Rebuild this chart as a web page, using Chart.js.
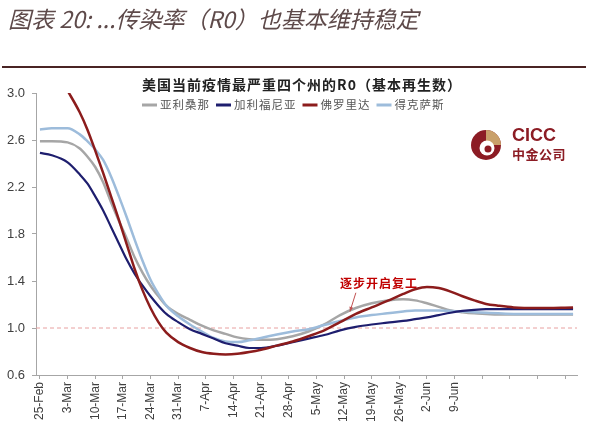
<!DOCTYPE html>
<html>
<head>
<meta charset="utf-8">
<script src="https://cdn.jsdelivr.net/npm/chart.js@4/dist/chart.umd.min.js"></script>
<style>
  html, body { margin: 0; padding: 0; background: #ffffff; }
  canvas { display: block; }
</style>
</head>
<body>
<canvas id="c" width="600" height="436"></canvas>
<script>
// ---- text ----
const headerText = '图表 20: ...传染率（R0）也基本维持稳定';
const chartTitle = '美国当前疫情最严重四个州的R0（基本再生数）';
const annotationText = '逐步开启复工';

// ---- axes ----
// tick labels (weekly, day offset = index * 7 from 25-Feb)
const dateLabels = ['25-Feb','3-Mar','10-Mar','17-Mar','24-Mar','31-Mar','7-Apr','14-Apr','21-Apr','28-Apr','5-May','12-May','19-May','26-May','2-Jun','9-Jun','','','',''];
const yTickValues = [0.6, 1.0, 1.4, 1.8, 2.2, 2.6, 3.0];
const threshold = 1.0;

// ---- series (days since 25-Feb) ----
const days = [0,3,7,10,12,14,16,18,20,22,24,26,28,30,32,35,38,41,44,47,50,53,56,60,64,68,72,76,80,84,88,92,95,98,101,104,107,110,113,116,120,126,135];

const seriesNames = ['亚利桑那','加利福尼亚','佛罗里达','得克萨斯'];

const arizona = [2.59,2.59,2.58,2.53,2.46,2.37,2.24,2.07,1.91,1.76,1.60,1.47,1.36,1.27,1.19,1.12,1.07,1.02,0.98,0.95,0.92,0.905,0.90,0.905,0.93,0.97,1.03,1.11,1.17,1.21,1.235,1.245,1.235,1.21,1.18,1.15,1.135,1.125,1.12,1.115,1.115,1.115,1.115];

const california = [2.49,2.47,2.41,2.31,2.23,2.12,2.00,1.86,1.72,1.58,1.46,1.36,1.27,1.19,1.12,1.05,0.99,0.95,0.91,0.87,0.85,0.83,0.83,0.85,0.88,0.91,0.94,0.98,1.01,1.03,1.045,1.06,1.075,1.09,1.11,1.13,1.145,1.155,1.16,1.16,1.16,1.16,1.16];

const florida = [null,null,3.02,2.84,2.69,2.51,2.32,2.12,1.92,1.71,1.50,1.32,1.17,1.05,0.96,0.88,0.83,0.795,0.78,0.775,0.78,0.795,0.815,0.85,0.885,0.93,0.98,1.05,1.12,1.175,1.23,1.29,1.33,1.35,1.34,1.31,1.27,1.235,1.205,1.19,1.175,1.17,1.175];

const texas = [2.69,2.70,2.70,2.65,2.59,2.52,2.43,2.29,2.12,1.94,1.75,1.57,1.41,1.29,1.19,1.10,1.03,0.97,0.915,0.885,0.88,0.895,0.915,0.945,0.97,0.99,1.025,1.06,1.09,1.11,1.125,1.14,1.15,1.15,1.15,1.145,1.14,1.135,1.13,1.125,1.12,1.12,1.12];

const seriesColors = ['#a6a6a6', '#1e1e6e', '#8c1c1c', '#9dbcdb'];

// ---- build ----
function toPoints(vals) {
  return days.map((d, i) => ({ x: d, y: vals[i] }));
}
const seriesValues = [arizona, california, florida, texas];
const drawOrder = [3, 1, 0, 2];
const lineWidths = [2.5, 2.2, 2.5, 2.5];

const datasets = seriesValues.map((vals, i) => ({
  label: seriesNames[i],
  data: toPoints(vals),
  borderColor: seriesColors[i],
  backgroundColor: seriesColors[i],
  borderWidth: lineWidths[i],
  pointRadius: 0,
  cubicInterpolationMode: 'monotone',
  spanGaps: false,
  order: drawOrder[i]
}));

const firstDay = -1, lastDay = 136;
datasets.push({
  label: 'R0=1',
  data: [{ x: firstDay, y: threshold }, { x: lastDay, y: threshold }],
  borderColor: '#e8a0a0',
  borderWidth: 1,
  borderDash: [4, 3],
  pointRadius: 0,
  order: 5
});

const cjk = '"Noto Sans CJK SC", sans-serif';

const overlay = {
  id: 'overlay',
  afterDraw(chart) {
    const ctx = chart.ctx;
    const xs = chart.scales.x, ys = chart.scales.y;
    ctx.save();

    // header
    ctx.font = 'italic 23px ' + cjk;
    ctx.fillStyle = '#5e4a4a';
    ctx.textBaseline = 'middle';
    ctx.textAlign = 'left';
    ctx.fillText(headerText, 8, 19);

    // rule
    ctx.strokeStyle = '#4a2424';
    ctx.lineWidth = 2;
    ctx.beginPath();
    ctx.moveTo(2, 67);
    ctx.lineTo(586, 67);
    ctx.stroke();

    // chart title
    ctx.font = 'bold 14px ' + cjk;
    ctx.fillStyle = '#222222';
    ctx.letterSpacing = '1px';
    ctx.textAlign = 'center';
    ctx.fillText(chartTitle, 302, 85);

    // legend
    ctx.font = '11.5px ' + cjk;
    ctx.letterSpacing = '1px';
    ctx.textAlign = 'left';
    let lx = 142;
    const ly = 105;
    seriesNames.forEach((name, i) => {
      ctx.strokeStyle = seriesColors[i];
      ctx.lineWidth = 3;
      ctx.beginPath();
      ctx.moveTo(lx, ly);
      ctx.lineTo(lx + 15, ly);
      ctx.stroke();
      lx += 18;
      ctx.fillStyle = '#555555';
      ctx.fillText(name, lx, ly);
      lx += ctx.measureText(name).width + 6;
    });
    ctx.letterSpacing = '0px';

    // CICC logo
    const cx = 486, cy = 145, r = 15;
    ctx.fillStyle = '#8c1c24';
    ctx.beginPath(); ctx.arc(cx, cy, r, 0, Math.PI * 2); ctx.fill();
    ctx.fillStyle = '#c9a06a';
    ctx.beginPath(); ctx.moveTo(cx, cy); ctx.arc(cx, cy, r, -Math.PI / 2, 0); ctx.closePath(); ctx.fill();
    ctx.fillStyle = '#ffffff';
    ctx.beginPath(); ctx.arc(cx + 1, cy + 3, 7.5, 0, Math.PI * 2); ctx.fill();
    ctx.fillStyle = '#8c1c24';
    ctx.beginPath(); ctx.arc(cx + 2, cy + 4, 3.5, 0, Math.PI * 2); ctx.fill();
    ctx.font = 'bold 18px "Liberation Sans", Arial, sans-serif';
    ctx.fillStyle = '#8c1c24';
    ctx.textBaseline = 'middle';
    ctx.fillText('CICC', 512, 136);
    ctx.font = 'bold 13px ' + cjk;
    ctx.letterSpacing = '0.5px';
    ctx.fillText('中金公司', 512, 154);
    ctx.letterSpacing = '0px';

    // annotation
    const tx = xs.getPixelForValue(76), ty = ys.getPixelForValue(1.38);
    ctx.font = 'bold 12px ' + cjk;
    ctx.letterSpacing = '1px';
    ctx.fillStyle = '#c00000';
    ctx.fillText(annotationText, tx, ty);
    ctx.letterSpacing = '0px';
    const ax1 = xs.getPixelForValue(80), ay1 = ys.getPixelForValue(1.30);
    const ax2 = xs.getPixelForValue(78.5), ay2 = ys.getPixelForValue(1.14);
    ctx.strokeStyle = '#c05050';
    ctx.lineWidth = 1;
    ctx.beginPath(); ctx.moveTo(ax1, ay1); ctx.lineTo(ax2, ay2); ctx.stroke();
    const ang = Math.atan2(ay2 - ay1, ax2 - ax1);
    ctx.fillStyle = '#c05050';
    ctx.beginPath();
    ctx.moveTo(ax2, ay2);
    ctx.lineTo(ax2 - 5 * Math.cos(ang - 0.4), ay2 - 5 * Math.sin(ang - 0.4));
    ctx.lineTo(ax2 - 5 * Math.cos(ang + 0.4), ay2 - 5 * Math.sin(ang + 0.4));
    ctx.closePath(); ctx.fill();

    ctx.restore();
  }
};

new Chart(document.getElementById('c'), {
  type: 'line',
  data: { datasets },
  plugins: [overlay],
  options: {
    responsive: false,
    animation: false,
    devicePixelRatio: 1,
    layout: { padding: { top: 93, right: 23, left: 0, bottom: 0 } },
    plugins: { legend: { display: false }, title: { display: false }, tooltip: { enabled: false } },
    scales: {
      x: {
        type: 'linear',
        min: firstDay,
        max: lastDay,
        afterFit(s) { s.height = 61; },
        afterBuildTicks(s) { s.ticks = dateLabels.map((_, i) => ({ value: i * 7 })); },
        grid: { drawOnChartArea: false, drawTicks: true, tickLength: 4, color: '#a6a6a6' },
        border: { display: true, color: '#a6a6a6', width: 1 },
        ticks: {
          autoSkip: false,
          minRotation: 90,
          maxRotation: 90,
          padding: 3,
          color: '#404040',
          font: { family: '"Liberation Sans", Arial, sans-serif', size: 12 },
          callback(v) { return dateLabels[Math.round(v / 7)] || ''; }
        }
      },
      y: {
        min: 0.6,
        max: 3.0,
        afterFit(s) { s.width = 36; },
        afterBuildTicks(s) { s.ticks = yTickValues.map(v => ({ value: v })); },
        grid: { drawOnChartArea: false, drawTicks: true, tickLength: 4, color: '#a6a6a6' },
        border: { display: true, color: '#a6a6a6', width: 1 },
        ticks: {
          padding: 7,
          color: '#404040',
          font: { family: '"Liberation Sans", Arial, sans-serif', size: 13 },
          callback(v) { return Number(v).toFixed(1); }
        }
      }
    }
  }
});
</script>
</body>
</html>
